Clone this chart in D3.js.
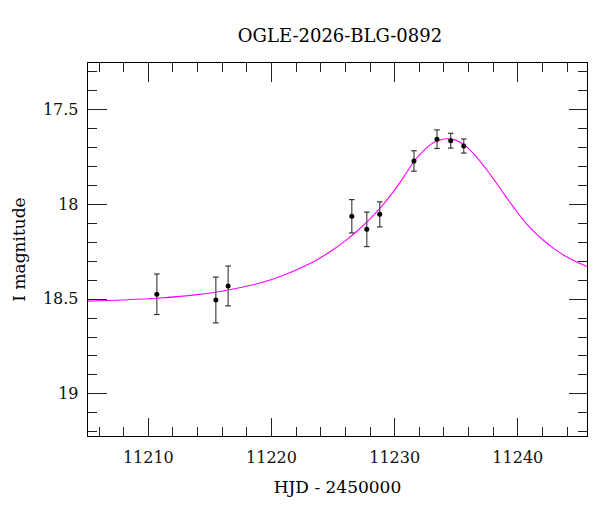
<!doctype html>
<html lang="en">
<head>
    <meta charset="utf-8">
    <title>OGLE-2026-BLG-0892</title>
    <script src="https://cdn.jsdelivr.net/npm/d3@7"></script>
    <style>
        body { margin: 0; background: #fff; }
        svg { display: block; font-family: "DejaVu Serif", serif; }
        .tick line { stroke: #222; shape-rendering: crispEdges; }
        .tick text { fill: #111; font-size: 16px; font-family: "DejaVu Serif", serif; }
        .frame { fill: none; stroke: #000; stroke-width: 1; shape-rendering: crispEdges; }
    </style>
</head>
<body>
<div id="chart"></div>
<script>
    // observations: HJD - 2450000, I magnitude, error
    var obsHjd = [11210.73, 11215.52, 11216.52, 11226.56, 11227.78, 11228.83, 11231.61, 11233.48, 11234.59, 11235.65];
    var obsMag = [18.477, 18.507, 18.433, 18.065, 18.134, 18.055, 17.773, 17.658, 17.666, 17.694];
    var obsErr = [0.107, 0.121, 0.105, 0.088, 0.091, 0.066, 0.054, 0.049, 0.039, 0.037];

    // model curve
    var modelHjd = [11205.1, 11208, 11211, 11214, 11216, 11218, 11220, 11222, 11223, 11224, 11225, 11226,
        11227, 11228, 11229, 11229.5, 11230, 11230.5, 11231, 11231.5, 11232, 11232.5, 11233, 11233.5,
        11234.3, 11235, 11235.67, 11236, 11236.5, 11237, 11237.5, 11238, 11238.5, 11239, 11239.5,
        11240, 11240.5, 11241, 11241.5, 11242, 11243, 11244, 11245, 11245.7];
    var modelMag = [18.513, 18.507, 18.497, 18.479, 18.461, 18.435, 18.400, 18.350, 18.320, 18.285, 18.243, 18.196,
        18.143, 18.082, 18.012, 17.972, 17.930, 17.885, 17.835, 17.785, 17.745, 17.712, 17.684, 17.668,
        17.656, 17.663, 17.688, 17.705, 17.738, 17.776, 17.818, 17.862, 17.908, 17.955, 18.000,
        18.044, 18.085, 18.122, 18.155, 18.185, 18.237, 18.279, 18.312, 18.331];

    var xTicks = [11210, 11220, 11230, 11240];
    var yTicks = [17.5, 18, 18.5, 19];

    var width = 600, height = 512;
    var mLeft = 87.5, mRight = 587.5, mTop = 62.5, mBottom = 436.5;

    var x = d3.scaleLinear().domain([11205.1, 11245.7]).range([mLeft, mRight]);
    var y = d3.scaleLinear().domain([17.253, 19.228]).range([mTop, mBottom]);

    var svg = d3.select("#chart").append("svg")
        .attr("width", width)
        .attr("height", height);

    svg.append("clipPath").attr("id", "plot")
        .append("rect")
        .attr("x", mLeft).attr("y", mTop)
        .attr("width", mRight - mLeft).attr("height", mBottom - mTop);

    var xMinor = x.ticks(20).filter(function (d) { return xTicks.indexOf(d) < 0; });
    var yMinor = y.ticks(20).filter(function (d) {
        return !yTicks.some(function (t) { return Math.abs(t - d) < 1e-6; });
    });

    function addAxis(axis, tx, ty) {
        var g = svg.append("g")
            .attr("transform", "translate(" + tx + "," + ty + ")")
            .call(axis);
        g.select(".domain").remove();
        return g;
    }

    // bottom
    addAxis(d3.axisBottom(x).tickValues(xTicks).tickSize(-19).tickPadding(15)
        .tickFormat(d3.format("d")), 0, mBottom);
    addAxis(d3.axisBottom(x).tickValues(xMinor).tickSize(-9.5).tickFormat(""), 0, mBottom);
    // top
    addAxis(d3.axisTop(x).tickValues(xTicks).tickSize(-19).tickFormat(""), 0, mTop);
    addAxis(d3.axisTop(x).tickValues(xMinor).tickSize(-9.5).tickFormat(""), 0, mTop);
    // left
    addAxis(d3.axisLeft(y).tickValues(yTicks).tickSize(-19).tickPadding(9)
        .tickFormat(function (d) { return String(d); }), mLeft, 0);
    addAxis(d3.axisLeft(y).tickValues(yMinor).tickSize(-9.5).tickFormat(""), mLeft, 0);
    // right
    addAxis(d3.axisRight(y).tickValues(yTicks).tickSize(-19).tickFormat(""), mRight, 0);
    addAxis(d3.axisRight(y).tickValues(yMinor).tickSize(-9.5).tickFormat(""), mRight, 0);

    svg.append("rect").attr("class", "frame")
        .attr("x", mLeft).attr("y", mTop)
        .attr("width", mRight - mLeft).attr("height", mBottom - mTop);

    // model
    var line = d3.line()
        .x(function (d) { return x(d[0]); })
        .y(function (d) { return y(d[1]); })
        .curve(d3.curveMonotoneX);

    svg.append("path")
        .datum(d3.zip(modelHjd, modelMag))
        .attr("clip-path", "url(#plot)")
        .attr("d", line)
        .attr("fill", "none")
        .attr("stroke", "#ff00ff")
        .attr("stroke-width", 1.1);

    // error bars + points
    var obs = obsHjd.map(function (d, i) { return { t: d, m: obsMag[i], e: obsErr[i] }; });
    var pts = svg.append("g");

    pts.selectAll(".bar").data(obs).enter().append("line")
        .attr("x1", function (d) { return x(d.t); })
        .attr("x2", function (d) { return x(d.t); })
        .attr("y1", function (d) { return y(d.m - d.e); })
        .attr("y2", function (d) { return y(d.m + d.e); })
        .attr("stroke", "#555").attr("stroke-width", 1.3);

    [-1, 1].forEach(function (s) {
        pts.selectAll(".cap" + s).data(obs).enter().append("line")
            .attr("x1", function (d) { return x(d.t) - 2.8; })
            .attr("x2", function (d) { return x(d.t) + 2.8; })
            .attr("y1", function (d) { return y(d.m + s * d.e); })
            .attr("y2", function (d) { return y(d.m + s * d.e); })
            .attr("stroke", "#333").attr("stroke-width", 1.2);
    });

    pts.selectAll("circle").data(obs).enter().append("circle")
        .attr("cx", function (d) { return x(d.t); })
        .attr("cy", function (d) { return y(d.m); })
        .attr("r", 2.5)
        .attr("fill", "#000");

    // labels
    svg.append("text")
        .attr("x", 340).attr("y", 41.5)
        .attr("text-anchor", "middle")
        .style("font-size", "18px")
        .text("OGLE-2026-BLG-0892");

    svg.append("text")
        .attr("x", 337.5).attr("y", 492.5)
        .attr("text-anchor", "middle")
        .style("font-size", "17px")
        .text("HJD - 2450000");

    svg.append("text")
        .attr("transform", "translate(24.5,249.5) rotate(-90)")
        .attr("text-anchor", "middle")
        .style("font-size", "17px")
        .text("I magnitude");
</script>
</body>
</html>
